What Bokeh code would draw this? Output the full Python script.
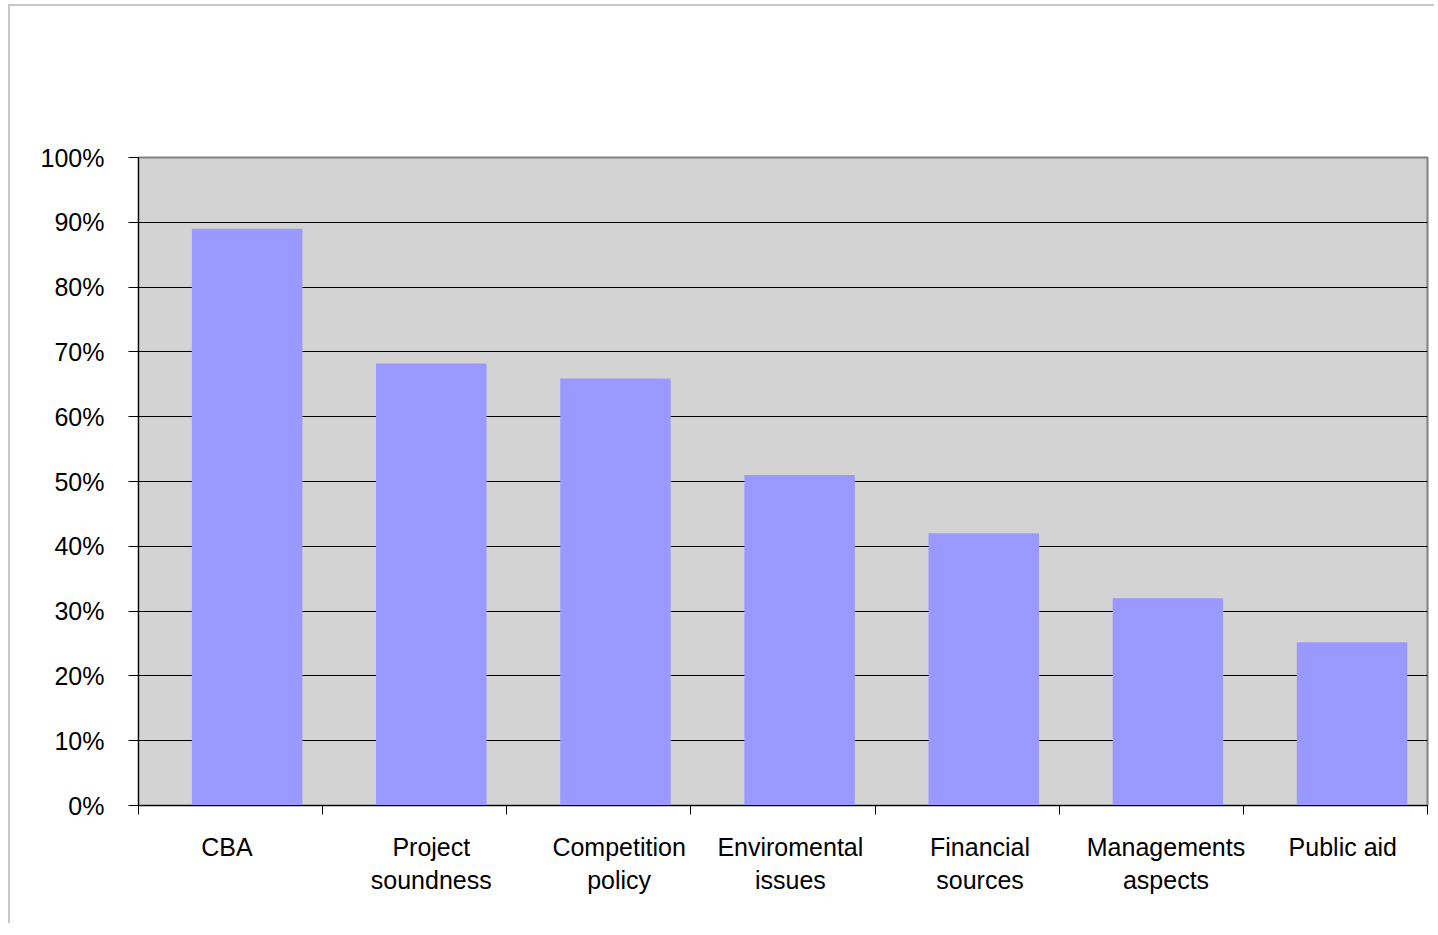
from bokeh.plotting import figure
from bokeh.models import ColumnDataSource, FixedTicker, Range1d, NumeralTickFormatter
from bokeh.embed import file_html
from bokeh.resources import INLINE

categories = ["CBA", "Project\nsoundness", "Competition\npolicy", "Enviromental\nissues",
              "Financial\nsources", "Managements\naspects", "Public aid"]
values = [0.89, 0.682, 0.659, 0.51, 0.42, 0.32, 0.252]
y_ticks = [0.0, 0.1, 0.2, 0.3, 0.4, 0.5, 0.6, 0.7, 0.8, 0.9, 1.0]

n = len(categories)
bar_offset = 0.59
# label placement within each category slot (layout only)
label_shift = [0.48, 0.59, 0.61, 0.54, 0.57, 0.58, 0.54]
idx = list(range(n))
src = ColumnDataSource(dict(x=[i + bar_offset for i in idx], top=values))

FONT = "Liberation Sans"

p = figure(width=1426, height=919, output_backend="svg", toolbar_location=None,
           x_range=Range1d(0, n), y_range=Range1d(0, 1),
           min_border_left=128, min_border_top=151, min_border_right=9, min_border_bottom=120,
           background_fill_color="#D3D3D3", border_fill_color="white",
           outline_line_color="#808080", outline_line_width=2)
p.styles = {"border-left": "2px solid #C8C8C8", "border-top": "2px solid #C8C8C8",
            "margin-left": "8px", "margin-top": "4px"}

p.vbar(x="x", top="top", width=0.6, bottom=0, source=src,
       fill_color="#9999FF", line_color=None)

# grid
p.xgrid.grid_line_color = None
p.ygrid.grid_line_color = "black"
p.ygrid.grid_line_width = 1
p.ygrid.ticker = FixedTicker(ticks=y_ticks)

# y axis
p.yaxis.ticker = FixedTicker(ticks=y_ticks)
p.yaxis.formatter = NumeralTickFormatter(format="0%")
p.yaxis.axis_line_color = "black"
p.yaxis.major_tick_line_color = "black"
p.yaxis.major_tick_out = 10
p.yaxis.major_tick_in = 0
p.yaxis.minor_tick_line_color = None
p.yaxis.major_label_standoff = 24
p.yaxis.major_label_text_font = FONT
p.yaxis.major_label_text_font_size = "25px"
p.yaxis.major_label_text_color = "black"

# x axis: boundaries as minor ticks, labels at major ticks
label_pos = [i + s for i, s in zip(idx, label_shift)]
p.xaxis.ticker = FixedTicker(ticks=label_pos, minor_ticks=list(range(n + 1)))
p.xaxis.major_label_overrides = {lp: c for lp, c in zip(label_pos, categories)}
p.xaxis.major_tick_line_color = None
p.xaxis.minor_tick_line_color = "black"
p.xaxis.minor_tick_out = 9
p.xaxis.minor_tick_in = 0
p.xaxis.axis_line_color = "black"
p.xaxis.major_label_standoff = 18
p.xaxis.major_label_text_font = FONT
p.xaxis.major_label_text_font_size = "25px"
p.xaxis.major_label_text_color = "black"
p.xaxis.major_label_text_align = "center"

open("out.html", "w").write(file_html(p, INLINE))
